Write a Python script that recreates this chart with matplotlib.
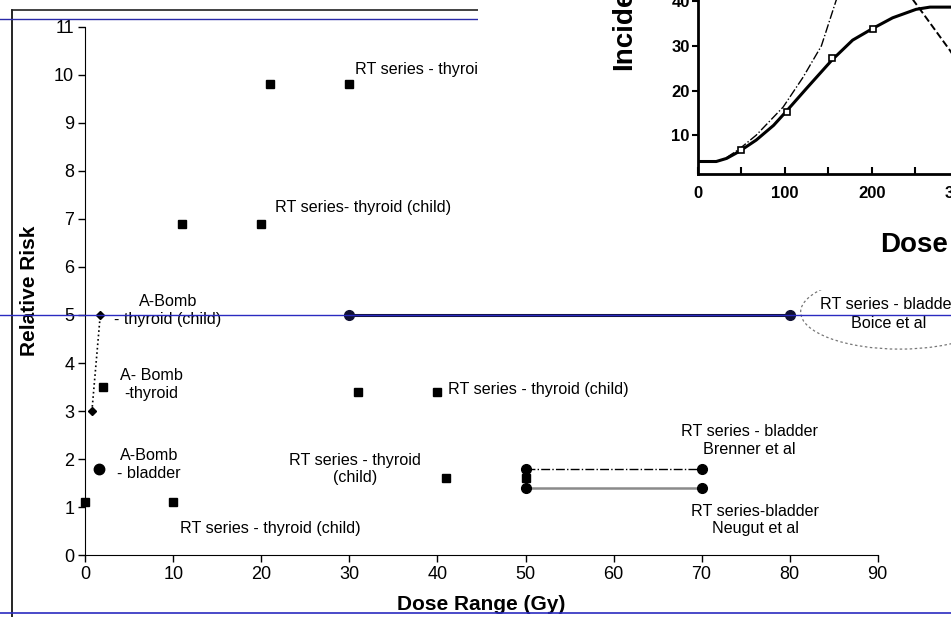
import matplotlib
matplotlib.use("Agg")
import matplotlib.pyplot as plt
from matplotlib.patches import Ellipse
from matplotlib.lines import Line2D

plt.rcParams['font.family'] = ['Liberation Sans', 'DejaVu Sans']

# main chart data (dose in Gy, relative risk)
sq_x = [0, 2, 10, 11, 20, 21, 30, 31, 40, 41, 50]
sq_y = [1.1, 3.5, 1.1, 6.9, 6.9, 9.8, 9.8, 3.4, 3.4, 1.6, 1.6]
abomb_child_x = [0.75, 1.7]
abomb_child_y = [3.0, 5.0]
abomb_bladder = (1.6, 1.8)
boice_x = [30, 80]
boice_y = [5.0, 5.0]
brenner_x = [50, 70]
brenner_y = [1.8, 1.8]
neugut_x = [50, 70]
neugut_y = [1.4, 1.4]

# inset curves
solid_x = [0, 21, 33, 47, 67, 87, 101, 125, 154, 178, 201, 224, 251, 267, 290, 320]
solid_y = [4.1, 4.1, 4.8, 6.3, 8.9, 12.2, 15.2, 20.5, 26.8, 31.3, 33.9, 36.3, 38.2, 38.7, 38.7, 38.6]
dashdot_x = [33, 47, 67, 98, 121, 142, 159, 175]
dashdot_y = [5.0, 6.8, 10.0, 16.3, 23.0, 30.0, 40.2, 47.0]
dashed_x = [240, 248, 259, 290, 300]
dashed_y = [43.0, 40.2, 37.3, 29.0, 26.0]
pts_x = [50, 102, 154, 201]
pts_y = [6.6, 15.2, 27.2, 33.9]

W, H = 951, 617
fig = plt.figure(figsize=(W / 100, H / 100), dpi=100)
fig.patch.set_facecolor('white')

def fx(px):
    return px / W

def fy(py):
    return 1 - py / H

ax = fig.add_axes([fx(85.3), fy(555.3), (877.7 - 85.3) / W, (555.3 - 26.6) / H], zorder=0)
ax.set_xlim(0, 90)
ax.set_ylim(0, 11)
ax.spines['top'].set_visible(False)
ax.spines['right'].set_visible(False)
ax.set_xticks(range(0, 91, 10))
ax.set_yticks(range(0, 12))
ax.tick_params(direction='out', length=5, width=1, labelsize=13, pad=3)

ax.plot(sq_x, sq_y, 's', color='black', ms=6, clip_on=False, zorder=4)
ax.plot(abomb_child_x, abomb_child_y, ':', color='black', lw=1.2,
        marker='D', ms=4.5, clip_on=False, zorder=4)
ax.plot(*abomb_bladder, 'o', color='black', ms=7.5, zorder=4)
ax.plot(boice_x, boice_y, '-', color='#111133', lw=2.2, marker='o', ms=7, zorder=4)
ax.plot(brenner_x, brenner_y, '-.', color='black', lw=1, marker='o', ms=7, zorder=4)
ax.plot(neugut_x, neugut_y, '-', color='#8a8a8a', lw=1.8, zorder=3)
ax.plot(neugut_x, neugut_y, 'o', color='black', ms=7, zorder=4)

ax.add_patch(Ellipse((92.5, 5.06), 22.5, 1.54, fill=False, ec='#777777',
                     lw=0.9, ls=(0, (2, 2)), clip_on=False))

fs = 11.6
ax.text(30.6, 10.1, 'RT series - thyroid', fontsize=fs, va='center')
ax.text(21.6, 7.23, 'RT series- thyroid (child)', fontsize=fs, va='center')
ax.text(9.4, 5.09, 'A-Bomb\n- thyroid (child)', fontsize=fs, ha='center', va='center')
ax.text(7.5, 3.55, 'A- Bomb\n-thyroid', fontsize=fs, ha='center', va='center')
ax.text(7.2, 1.89, 'A-Bomb\n- bladder', fontsize=fs, ha='center', va='center')
ax.text(30.6, 1.79, 'RT series - thyroid\n(child)', fontsize=fs, ha='center', va='center')
ax.text(10.7, 0.56, 'RT series - thyroid (child)', fontsize=fs, va='center')
ax.text(41.2, 3.44, 'RT series - thyroid (child)', fontsize=fs, va='center')
ax.text(83.4, 5.21, 'RT series - bladder', fontsize=fs, va='center')
ax.text(87.0, 4.83, 'Boice et al', fontsize=fs, va='center')
ax.text(75.45, 2.39, 'RT series - bladder\nBrenner et al', fontsize=fs, ha='center', va='center')
ax.text(76.1, 0.74, 'RT series-bladder\nNeugut et al', fontsize=fs, ha='center', va='center')

ax.set_xlabel('Dose Range (Gy)', fontsize=15, fontweight='bold', va='center')
ax.set_ylabel('Relative Risk', fontsize=15, fontweight='bold', va='center')
ax.xaxis.set_label_coords(0.5, -0.094)
ax.yaxis.set_label_coords(-0.0704, 0.5)

# scan frame and guide lines
fig.add_artist(Line2D([fx(12), fx(12)], [fy(10), fy(617)], color='black', lw=1.2, zorder=0.5))
fig.add_artist(Line2D([fx(12), fx(478)], [fy(10), fy(10)], color='#222222', lw=1.2, zorder=0.5))
fig.add_artist(Line2D([0, 1], [fy(19), fy(19)], color='#2a2aa8', lw=1, zorder=0.5))

# white panel of the pasted inset
cover = fig.add_axes([fx(478), fy(290), (W - 478) / W, 290 / H], zorder=1)
cover.set_facecolor('white')
cover.set_xticks([])
cover.set_yticks([])
for s in cover.spines.values():
    s.set_visible(False)

ins = fig.add_axes([fx(698), fy(174), 278 / W, 195 / H], zorder=2)
ins.patch.set_alpha(0)
ins.set_xlim(0, 320)
ins.set_ylim(1.3, 45)
ins.spines['top'].set_visible(False)
ins.spines['right'].set_visible(False)
ins.spines['left'].set_linewidth(2)
ins.spines['bottom'].set_linewidth(2)
ins.set_xticks([0, 100, 200, 300])
ins.set_xticks([50, 150, 250], minor=True)
ins.set_yticks([10, 20, 30, 40])
ins.tick_params(axis='x', which='both', direction='in', length=5, width=1.5, pad=9)
ins.tick_params(axis='y', direction='out', length=4, width=1.5, pad=2)
for lab in ins.get_xticklabels() + ins.get_yticklabels():
    lab.set_fontweight('bold')
    lab.set_fontsize(12)
ins.plot(solid_x, solid_y, '-', color='black', lw=2.2)
ins.plot(dashdot_x, dashdot_y, '-.', color='black', lw=1)
ins.plot(dashed_x, dashed_y, '--', color='black', lw=1.4)
ins.plot(pts_x, pts_y, 's', mfc='white', mec='black', mew=1.2, ms=5)

fig.text(fx(624), fy(70), 'Incidence', rotation=90, rotation_mode='anchor',
         ha='left', va='center', fontsize=20, fontweight='bold', zorder=5)
fig.text(fx(880), fy(252), 'Dose', ha='left', va='baseline',
         fontsize=20, fontweight='bold', zorder=5)

# guide lines on top
fig.add_artist(Line2D([0, 1], [fy(315), fy(315)], color='#2a2ac0', lw=1, zorder=10))
fig.add_artist(Line2D([0, 1], [fy(613), fy(613)], color='#2a2ac0', lw=1.2, zorder=10))

fig.savefig('out.png', dpi=100)
